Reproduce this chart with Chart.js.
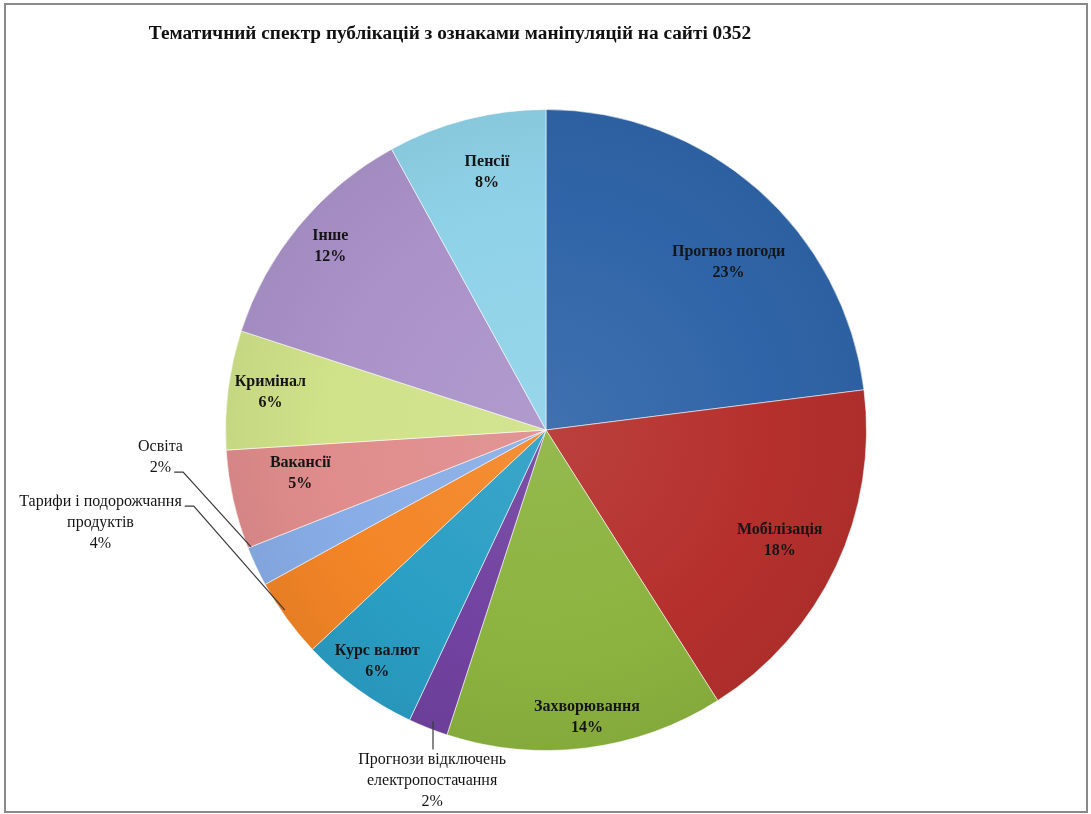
<!DOCTYPE html>
<html>
<head>
<meta charset="utf-8">
<script src="https://cdn.jsdelivr.net/npm/chart.js@4.4.0/dist/chart.umd.min.js"></script>
<style>
  html, body { margin: 0; padding: 0; background: #fff; }
  #wrap { position: relative; width: 1091px; height: 814px; }
</style>
</head>
<body>
<div id="wrap"><canvas id="pieChart" width="1091" height="814"></canvas></div>
<script>
// chart data
const chartTitle = 'Тематичний спектр публікацій з ознаками маніпуляцій на сайті 0352';
const categories = [
    'Прогноз погоди',
    'Мобілізація',
    'Захворювання',
    'Прогнози відключень електропостачання',
    'Курс валют',
    'Тарифи і подорожчання продуктів',
    'Освіта',
    'Вакансії',
    'Кримінал',
    'Інше',
    'Пенсії'
];
const shares = [23, 18, 14, 2, 6, 4, 2, 5, 6, 12, 8];
const sliceColors = ['#2f65a8', '#b5302d', '#8cb33f', '#7142a0', '#2a9ec4', '#f38526', '#88ade6', '#e08c8c', '#cfe289', '#aa92c9', '#8fd2e8'];

// how the category names break into lines on the chart
const labelLines = {
    'Прогнози відключень електропостачання': ['Прогнози відключень', 'електропостачання'],
    'Тарифи і подорожчання продуктів': ['Тарифи і подорожчання', 'продуктів']
};

// label anchor: angle (deg clockwise from 12 o'clock), distance as fraction of radius
// outside labels also get a leader line
const labelPlacement = [
    { a: 47.4, f: 0.774 },
    { a: 115.2, f: 0.806 },
    { a: 171.9, f: 0.906 },
    { a: 198.0, f: 1.15, outside: true, attach: 'top', to: [201.2, 0.975] },
    { a: 216.1, f: 0.894 },
    { a: 258.2, f: 1.42, outside: true, attach: 0, to: [235.4, 0.99] },
    { a: 265.9, f: 1.206, outside: true, attach: 1, to: [248.4, 0.99] },
    { a: 260.1, f: 0.778 },
    { a: 277.8, f: 0.868 },
    { a: 310.4, f: 0.884 },
    { a: 347.1, f: 0.825 }
];

function hexToRgb(hex) {
    const n = parseInt(hex.slice(1), 16);
    return [(n >> 16) & 255, (n >> 8) & 255, n & 255];
}
function mix(hex, target, t) {
    const c = hexToRgb(hex);
    const m = c.map(v => Math.round(v + (target - v) * t));
    return 'rgb(' + m.join(',') + ')';
}

function sliceFill(ctx) {
    const chart = ctx.chart;
    const base = sliceColors[ctx.dataIndex];
    const area = chart.chartArea;
    if (!area) return base;
    const cx = (area.left + area.right) / 2;
    const cy = (area.top + area.bottom) / 2;
    const r = Math.min(area.right - area.left, area.bottom - area.top) / 2;
    const g = chart.ctx.createRadialGradient(cx, cy, 0, cx, cy, r);
    g.addColorStop(0, mix(base, 255, 0.08));
    g.addColorStop(0.7, base);
    g.addColorStop(1, mix(base, 0, 0.05));
    return g;
}

const labelFont = "'Liberation Serif', 'Times New Roman', serif";

const pieDecor = {
    id: 'pieDecor',
    afterDatasetsDraw(chart) {
        const ctx = chart.ctx;
        const meta = chart.getDatasetMeta(0);
        ctx.save();
        ctx.textAlign = 'center';
        ctx.textBaseline = 'middle';
        ctx.fillStyle = '#151515';
        const lh = 21;
        meta.data.forEach((arc, i) => {
            const p = labelPlacement[i];
            const R = arc.outerRadius;
            const rad = p.a * Math.PI / 180;
            const x = arc.x + Math.sin(rad) * R * p.f;
            const y = arc.y - Math.cos(rad) * R * p.f;
            const lines = (labelLines[categories[i]] || [categories[i]]).concat([shares[i] + '%']);
            ctx.font = (p.outside ? '' : 'bold ') + '16px ' + labelFont;
            const top = y - (lines.length - 1) * lh / 2;
            lines.forEach((t, k) => ctx.fillText(t, x, top + k * lh));
            if (p.outside) {
                const tr = p.to[0] * Math.PI / 180;
                const ex = arc.x + Math.sin(tr) * R * p.to[1];
                const ey = arc.y - Math.cos(tr) * R * p.to[1];
                ctx.beginPath();
                ctx.strokeStyle = '#3a3a3a';
                ctx.lineWidth = 1.2;
                if (p.attach === 'top') {
                    ctx.moveTo(ex, top - 10);
                    ctx.lineTo(ex, ey);
                } else {
                    const w = ctx.measureText(lines[p.attach]).width;
                    const sx = x + w / 2 + 3;
                    const sy = top + p.attach * lh + 4;
                    ctx.moveTo(sx, sy);
                    ctx.lineTo(sx + 9, sy);
                    ctx.lineTo(ex, ey);
                }
                ctx.stroke();
            }
        });

        // title
        ctx.font = 'bold 19.3px ' + labelFont;
        ctx.fillStyle = '#111';
        ctx.fillText(chartTitle, 450, 34);

        // frame
        ctx.strokeStyle = '#8a8a8a';
        ctx.lineWidth = 2;
        ctx.strokeRect(5, 4, 1082, 808);
        ctx.restore();
    }
};

new Chart(document.getElementById('pieChart'), {
    type: 'pie',
    data: {
        labels: categories,
        datasets: [{
            data: shares,
            backgroundColor: sliceFill,
            borderColor: 'rgba(255,255,255,0.55)',
            borderWidth: 1,
            hoverOffset: 0
        }]
    },
    options: {
        responsive: false,
        animation: false,
        layout: { padding: { top: 109, bottom: 63, left: 1, right: 0 } },
        plugins: {
            legend: { display: false },
            title: { display: false },
            tooltip: { enabled: false }
        }
    },
    plugins: [pieDecor]
});
</script>
</body>
</html>
